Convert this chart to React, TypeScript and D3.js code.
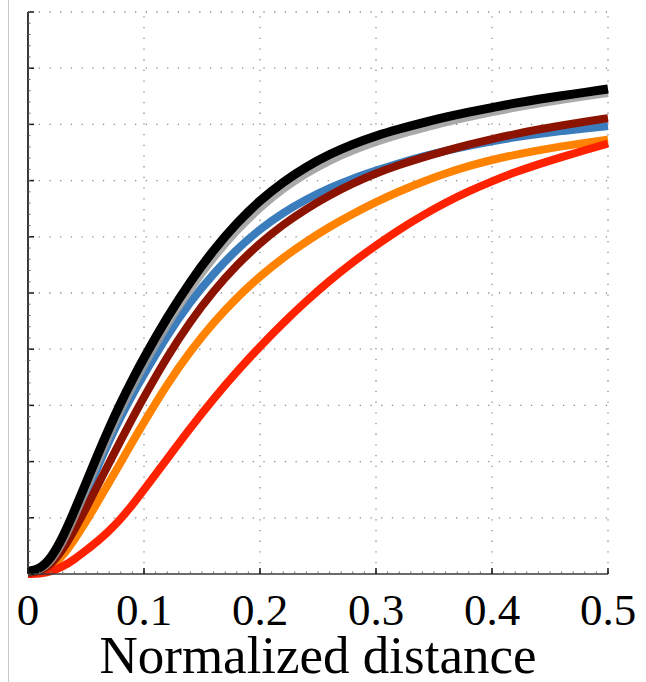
import React from 'react'
import * as d3 from 'd3'

// normalized distance samples
const distances = [
  0, 0.01, 0.02, 0.03, 0.04, 0.05, 0.06, 0.07, 0.08, 0.09, 0.1, 0.12, 0.14, 0.16, 0.18, 0.2,
  0.22, 0.24, 0.26, 0.28, 0.3, 0.32, 0.34, 0.36, 0.38, 0.4, 0.42, 0.44, 0.46, 0.48, 0.5
]

const blackValues = [
  0.005, 0.008, 0.028, 0.065, 0.112, 0.162, 0.212, 0.26, 0.305, 0.346, 0.385, 0.457, 0.521, 0.577,
  0.625, 0.665, 0.698, 0.725, 0.747, 0.765, 0.78, 0.792, 0.803, 0.813, 0.822, 0.83, 0.838, 0.845,
  0.851, 0.857, 0.863
]

const grayValues = [
  0.004, 0.006, 0.022, 0.056, 0.101, 0.15, 0.199, 0.247, 0.292, 0.333, 0.372, 0.444, 0.508, 0.564,
  0.612, 0.652, 0.686, 0.713, 0.736, 0.754, 0.769, 0.782, 0.793, 0.804, 0.813, 0.822, 0.83, 0.837,
  0.844, 0.85, 0.856
]

const blueValues = [
  0.003, 0.006, 0.022, 0.054, 0.096, 0.142, 0.19, 0.237, 0.28, 0.319, 0.355, 0.425, 0.485, 0.535,
  0.578, 0.614, 0.643, 0.667, 0.687, 0.704, 0.718, 0.731, 0.743, 0.753, 0.762, 0.77, 0.777,
  0.783, 0.788, 0.793, 0.797
]

const darkRedValues = [
  0.002, 0.004, 0.017, 0.043, 0.078, 0.117, 0.157, 0.198, 0.238, 0.277, 0.315, 0.387, 0.45, 0.504,
  0.55, 0.589, 0.622, 0.65, 0.674, 0.695, 0.713, 0.728, 0.741, 0.753, 0.764, 0.774, 0.783,
  0.791, 0.798, 0.805, 0.811
]

const orangeValues = [
  0, 0.002, 0.011, 0.032, 0.061, 0.093, 0.128, 0.163, 0.199, 0.235, 0.27, 0.338, 0.397, 0.448,
  0.492, 0.53, 0.563, 0.592, 0.618, 0.641, 0.662, 0.681, 0.698, 0.713, 0.726, 0.737, 0.746,
  0.754, 0.761, 0.767, 0.773
]

const redValues = [
  0, 0, 0.004, 0.013, 0.026, 0.042, 0.058, 0.077, 0.098, 0.123, 0.15, 0.205, 0.26, 0.312, 0.36,
  0.405, 0.447, 0.486, 0.522, 0.555, 0.585, 0.613, 0.638, 0.661, 0.681, 0.699, 0.715, 0.729,
  0.742, 0.754, 0.766
]

// draw order: bottom first
const series = [
  { name: 'orange', color: '#ff8200', values: orangeValues },
  { name: 'red', color: '#ff2200', values: redValues },
  { name: 'blue', color: '#3b7dbc', values: blueValues },
  { name: 'darkred', color: '#8c1300', values: darkRedValues },
  { name: 'gray', color: '#9a9a9a', values: grayValues },
  { name: 'black', color: '#000000', values: blackValues }
]

const xTicks = [0, 0.1, 0.2, 0.3, 0.4, 0.5]
const yTicks = [0, 0.1, 0.2, 0.3, 0.4, 0.5, 0.6, 0.7, 0.8, 0.9, 1]

const width = 646
const height = 682

class App extends React.Component {
  anchor: SVGSVGElement | null = null

  componentDidMount() {
    this.update()
  }

  update() {
    const svg = d3.select(this.anchor)
    svg.selectAll('*').remove()

    const margin = { top: 12, right: 38, bottom: 108, left: 28 }

    const x = d3
      .scaleLinear()
      .domain([0, 0.5])
      .range([margin.left, width - margin.right])

    const y = d3
      .scaleLinear()
      .domain([0, 1])
      .range([height - margin.bottom, margin.top])

    // page edge line
    svg
      .append('line')
      .attr('x1', 8.5)
      .attr('x2', 8.5)
      .attr('y1', 0)
      .attr('y2', height)
      .attr('stroke', '#c8c8c8')
      .attr('stroke-width', 1)

    // dotted grid
    const grid = svg.append('g').attr('stroke', '#8a8a8a').attr('stroke-width', 1.3)
    grid
      .selectAll('.hgrid')
      .data(yTicks.slice(1))
      .enter()
      .append('line')
      .attr('x1', x(0))
      .attr('x2', x(0.5))
      .attr('y1', d => y(d))
      .attr('y2', d => y(d))
      .attr('stroke-dasharray', '1.3,9.4')
    grid
      .selectAll('.vgrid')
      .data(xTicks.slice(1))
      .enter()
      .append('line')
      .attr('x1', d => x(d))
      .attr('x2', d => x(d))
      .attr('y1', y(0))
      .attr('y2', y(1))
      .attr('stroke-dasharray', '1.3,9.4')

    // curves
    const line = d3
      .line<number>()
      .x((d, i) => x(distances[i]))
      .y(d => y(d))
      .curve(d3.curveBasis)

    svg
      .append('g')
      .selectAll('path')
      .data(series)
      .enter()
      .append('path')
      .attr('d', d => line(d.values))
      .attr('fill', 'none')
      .attr('stroke', d => d.color)
      .attr('stroke-width', d => (d.name === 'black' ? 9 : 8))
      .attr('stroke-linejoin', 'round')
      .attr('stroke-opacity', d => (d.name === 'gray' ? 0.85 : 1))

    // axes
    const axisColor = '#3a3a3a'
    svg
      .append('line')
      .attr('x1', x(0))
      .attr('x2', x(0))
      .attr('y1', y(1))
      .attr('y2', y(0))
      .attr('stroke', axisColor)
      .attr('stroke-width', 2)
    svg
      .append('line')
      .attr('x1', x(0))
      .attr('x2', x(0.5))
      .attr('y1', y(0))
      .attr('y2', y(0))
      .attr('stroke', axisColor)
      .attr('stroke-width', 1.5)

    // left ticks
    svg
      .append('g')
      .selectAll('line')
      .data(yTicks)
      .enter()
      .append('line')
      .attr('x1', x(0))
      .attr('x2', x(0) + 6)
      .attr('y1', d => y(d))
      .attr('y2', d => y(d))
      .attr('stroke', '#111')
      .attr('stroke-width', 1.5)
    svg
      .append('g')
      .selectAll('line')
      .data(d3.range(0, 1.001, 0.02))
      .enter()
      .append('line')
      .attr('x1', x(0))
      .attr('x2', x(0) + 2.5)
      .attr('y1', d => y(d))
      .attr('y2', d => y(d))
      .attr('stroke', '#666')
      .attr('stroke-width', 1)

    // bottom ticks
    svg
      .append('g')
      .selectAll('line')
      .data(d3.range(0, 0.5001, 0.01))
      .enter()
      .append('line')
      .attr('x1', d => x(d))
      .attr('x2', d => x(d))
      .attr('y1', y(0))
      .attr('y2', y(0) - 2.5)
      .attr('stroke', '#666')
      .attr('stroke-width', 1)
    svg
      .append('g')
      .selectAll('line')
      .data(xTicks)
      .enter()
      .append('line')
      .attr('x1', d => x(d))
      .attr('x2', d => x(d))
      .attr('y1', y(0))
      .attr('y2', y(0) - 6)
      .attr('stroke', '#111')
      .attr('stroke-width', 1.5)

    // tick labels
    svg
      .append('g')
      .selectAll('text')
      .data(xTicks)
      .enter()
      .append('text')
      .attr('x', d => x(d))
      .attr('y', 625)
      .attr('text-anchor', 'middle')
      .attr('font-family', '"Liberation Serif", "Times New Roman", serif')
      .attr('font-size', 45)
      .attr('fill', '#000')
      .text(d => (d === 0 ? '0' : d3.format('.1f')(d)))

    svg
      .append('text')
      .attr('x', 318)
      .attr('y', 673)
      .attr('text-anchor', 'middle')
      .attr('font-family', '"Liberation Serif", "Times New Roman", serif')
      .attr('font-size', 53)
      .attr('fill', '#000')
      .text('Normalized distance')
  }

  render() {
    return (
      <svg
        width={width}
        height={height}
        style={{ position: 'absolute', left: 0, top: 0, background: '#fff' }}
        ref={node => {
          this.anchor = node
        }}
      />
    )
  }
}

export default App
